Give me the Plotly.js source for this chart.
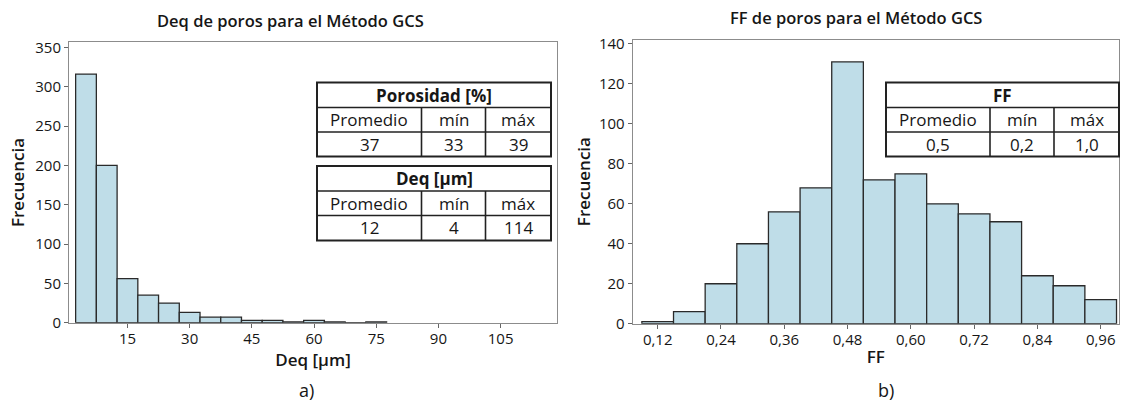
<!DOCTYPE html>
<html>
<head>
<meta charset="utf-8">
<script src="https://cdn.plot.ly/plotly-3.0.1.min.js"></script>
<style>
html,body{margin:0;padding:0;background:#fff;}
#chart{width:1121px;height:404px;}
</style>
</head>
<body>
<div id="chart"></div>
<script>
// ---- Data ----
const deqBinCenters = [5, 10, 15, 20, 25, 30, 35, 40, 45, 50, 55, 60, 65, 70, 75];
const deqCounts     = [316, 200, 56, 35, 25, 13, 7, 7, 3, 3, 1, 3, 1, 0, 1];
const deqBinWidth   = 5;
const deqXTicks     = [15, 30, 45, 60, 75, 90, 105];
const deqYTicks     = [0, 50, 100, 150, 200, 250, 300, 350];

const ffBinCenters = [0.12, 0.18, 0.24, 0.30, 0.36, 0.42, 0.48, 0.54, 0.60, 0.66, 0.72, 0.78, 0.84, 0.90, 0.96];
const ffCounts     = [1, 6, 20, 40, 56, 68, 131, 72, 75, 60, 55, 51, 24, 19, 12];
const ffBinWidth   = 0.06;
const ffXTicks     = [0.12, 0.24, 0.36, 0.48, 0.60, 0.72, 0.84, 0.96];
const ffYTicks     = [0, 20, 40, 60, 80, 100, 120, 140];

const statLabels      = ['Promedio', 'mín', 'máx'];
const porosidadHeader = 'Porosidad [%]';
const porosidadStats  = ['37', '33', '39'];
const deqHeader       = 'Deq [µm]';
const deqStats        = ['12', '4', '114'];
const ffHeader        = 'FF';
const ffStats         = ['0,5', '0,2', '1,0'];

const titleLeft  = 'Deq de poros para el Método GCS';
const titleRight = 'FF de poros para el Método GCS';
const xTitleLeft = 'Deq [µm]';
const xTitleRight = 'FF';
const yTitle = 'Frecuencia';

// ---- Layout helpers ----
const W = 1121, H = 404;
const px = x => x / W;
const py = y => 1 - y / H;
const FONT = 'Open Sans, Noto Sans, sans-serif';
const TXT = '#161616';
const BAR_FILL = '#bfdde8';
const BAR_LINE = '#2a2a2a';

const shapes = [];
const annotations = [];

function drawTable(xEdges, yEdges, header, labels, values) {
  const x0 = xEdges[0], x1 = xEdges[xEdges.length - 1];
  const y0 = yEdges[0], y3 = yEdges[yEdges.length - 1];
  shapes.push({type: 'rect', xref: 'paper', yref: 'paper',
    x0: px(x0), x1: px(x1), y0: py(y0), y1: py(y3),
    line: {color: '#222', width: 2}, fillcolor: '#ffffff', layer: 'above'});
  for (let i = 1; i < yEdges.length - 1; i++) {
    shapes.push({type: 'line', xref: 'paper', yref: 'paper',
      x0: px(x0), x1: px(x1), y0: py(yEdges[i]), y1: py(yEdges[i]),
      line: {color: '#222', width: 1.6}, layer: 'above'});
  }
  for (let j = 1; j < xEdges.length - 1; j++) {
    shapes.push({type: 'line', xref: 'paper', yref: 'paper',
      x0: px(xEdges[j]), x1: px(xEdges[j]), y0: py(yEdges[1]), y1: py(y3),
      line: {color: '#222', width: 1.6}, layer: 'above'});
  }
  annotations.push({xref: 'paper', yref: 'paper', x: px((x0 + x1) / 2), y: py((yEdges[0] + yEdges[1]) / 2),
    text: '<b>' + header + '</b>', showarrow: false, xanchor: 'center', yanchor: 'middle',
    font: {family: FONT, size: 17, color: TXT}});
  for (let j = 0; j < labels.length; j++) {
    const cx = px((xEdges[j] + xEdges[j + 1]) / 2);
    annotations.push({xref: 'paper', yref: 'paper', x: cx, y: py((yEdges[1] + yEdges[2]) / 2),
      text: labels[j], showarrow: false, xanchor: 'center', yanchor: 'middle',
      font: {family: FONT, size: 17, color: TXT}});
    annotations.push({xref: 'paper', yref: 'paper', x: cx, y: py((yEdges[2] + yEdges[3]) / 2),
      text: values[j], showarrow: false, xanchor: 'center', yanchor: 'middle',
      font: {family: FONT, size: 17, color: TXT}});
  }
}

drawTable([317, 421.5, 485.5, 551], [82.5, 107.5, 132, 156.5], porosidadHeader, statLabels, porosidadStats);
drawTable([317, 421.5, 485.5, 551], [166, 191, 215.5, 240.5], deqHeader, statLabels, deqStats);
drawTable([886, 990, 1054, 1119], [82.5, 107.5, 132, 156.5], ffHeader, statLabels, ffStats);

// panel titles and captions
annotations.push({xref: 'paper', yref: 'paper', x: px(290), y: py(20), text: titleLeft,
  showarrow: false, xanchor: 'center', yanchor: 'middle',
  font: {family: FONT, size: 16.5, color: TXT, weight: 600}});
annotations.push({xref: 'paper', yref: 'paper', x: px(856), y: py(17), text: titleRight,
  showarrow: false, xanchor: 'center', yanchor: 'middle',
  font: {family: FONT, size: 16.5, color: TXT, weight: 600}});
annotations.push({xref: 'paper', yref: 'paper', x: px(306), y: 0, text: 'a)',
  showarrow: false, xanchor: 'center', yanchor: 'bottom', yshift: 0,
  font: {family: FONT, size: 18, color: TXT}});
annotations.push({xref: 'paper', yref: 'paper', x: px(886), y: 0, text: 'b)',
  showarrow: false, xanchor: 'center', yanchor: 'bottom', yshift: 0,
  font: {family: FONT, size: 18, color: TXT}});

const traces = [
  {type: 'bar', x: deqBinCenters, y: deqCounts, width: deqBinWidth,
   xaxis: 'x', yaxis: 'y', hoverinfo: 'x+y',
   marker: {color: BAR_FILL, line: {color: BAR_LINE, width: 1.3}}},
  {type: 'bar', x: ffBinCenters, y: ffCounts, width: ffBinWidth,
   xaxis: 'x2', yaxis: 'y2', hoverinfo: 'x+y',
   marker: {color: BAR_FILL, line: {color: BAR_LINE, width: 1.3}}}
];

const axisCommon = {
  showgrid: false, zeroline: false, showline: true, mirror: true,
  linecolor: '#8c8c8c', linewidth: 1,
  ticks: 'outside', ticklen: 4, tickwidth: 1, tickcolor: '#666',
  tickfont: {family: FONT, size: 15, color: TXT},
  automargin: false, fixedrange: true
};

const layout = {
  width: W, height: H,
  margin: {l: 0, r: 0, t: 0, b: 0},
  paper_bgcolor: '#ffffff', plot_bgcolor: '#ffffff',
  showlegend: false,
  separators: ',.',
  bargap: 0,
  font: {family: FONT, color: TXT},
  xaxis: Object.assign({}, axisCommon, {
    domain: [px(69), px(557)], anchor: 'y', range: [0.9, 118.6],
    tickmode: 'array', tickvals: deqXTicks, ticklabelstandoff: -2,
    title: {text: xTitleLeft, standoff: 3, font: {family: FONT, size: 17, color: TXT, weight: 600}}
  }),
  yaxis: Object.assign({}, axisCommon, {
    domain: [py(322.7), py(42.3)], anchor: 'x', range: [0, 356.4],
    tickmode: 'array', tickvals: deqYTicks,
    title: {text: yTitle, standoff: 6, font: {family: FONT, size: 17, color: TXT, weight: 600}}
  }),
  xaxis2: Object.assign({}, axisCommon, {
    domain: [px(632.7), px(1119)], anchor: 'y2', range: [0.0726, 0.9947],
    tickmode: 'array', tickvals: ffXTicks, tickformat: '.2f', ticklabelstandoff: -2,
    title: {text: xTitleRight, standoff: 3, font: {family: FONT, size: 17, color: TXT, weight: 600}}
  }),
  yaxis2: Object.assign({}, axisCommon, {
    domain: [py(323.7), py(39.5)], anchor: 'x2', range: [0, 142.2],
    tickmode: 'array', tickvals: ffYTicks,
    title: {text: yTitle, standoff: 4, font: {family: FONT, size: 17, color: TXT, weight: 600}}
  }),
  shapes: shapes,
  annotations: annotations
};

Plotly.newPlot('chart', traces, layout, {staticPlot: true, displayModeBar: false});
</script>
</body>
</html>
